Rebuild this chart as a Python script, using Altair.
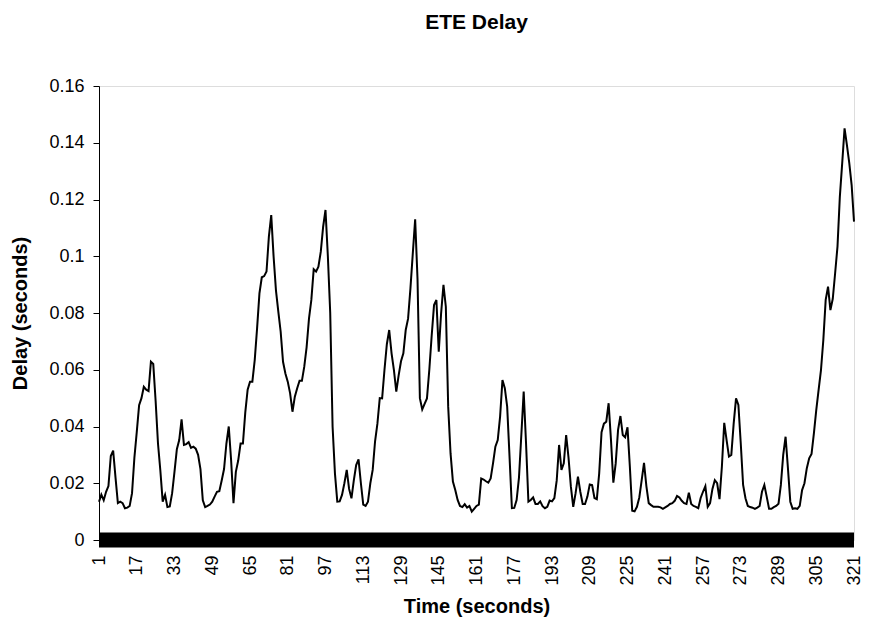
import altair as alt
import pandas as pd

FONT = "Liberation Sans"

time_s = list(range(1, 322))

delay_part1 = [0.0135, 0.016, 0.014, 0.017, 0.019, 0.0296, 0.0315, 0.022, 0.013, 0.0135,
               0.013, 0.0112, 0.0114, 0.012, 0.0165, 0.029, 0.038, 0.0475, 0.05, 0.054,
               0.053, 0.0525, 0.0628, 0.062, 0.049, 0.034, 0.0245, 0.0135, 0.0159, 0.0116,
               0.0118, 0.0165, 0.0241, 0.032, 0.0352, 0.0425, 0.0335, 0.0338, 0.0345, 0.0325,
               0.0329, 0.0322, 0.030, 0.025, 0.014, 0.0116, 0.012, 0.0125, 0.0135, 0.0153,
               0.017, 0.0172, 0.021, 0.025]
delay_part2 = [0.034, 0.04, 0.028, 0.013, 0.024, 0.028, 0.034, 0.034, 0.045, 0.053,
               0.0558, 0.0558, 0.0634, 0.0746, 0.0869, 0.0926, 0.093, 0.0946, 0.1069, 0.1145,
               0.0999, 0.088, 0.0805, 0.0734, 0.0628, 0.0587, 0.0558, 0.0517, 0.0452, 0.0505,
               0.0535, 0.0561, 0.0561, 0.0611, 0.068, 0.078, 0.0846, 0.0954, 0.0946, 0.0963,
               0.1016, 0.1104, 0.1163, 0.100, 0.080, 0.040, 0.0235, 0.0135, 0.0136, 0.0159,
               0.020, 0.0247, 0.018, 0.0147]
delay_part3 = [0.021, 0.0264, 0.0284, 0.020, 0.0125, 0.012, 0.0135, 0.020, 0.0247, 0.0347,
               0.041, 0.050, 0.0499, 0.060, 0.069, 0.074, 0.0658, 0.0599, 0.0523, 0.058,
               0.063, 0.0658, 0.074, 0.078, 0.0887, 0.101, 0.113, 0.092, 0.050, 0.046,
               0.048, 0.0499, 0.060, 0.072, 0.0828, 0.0846, 0.0664, 0.0799, 0.0899, 0.0822,
               0.047, 0.0305, 0.0206, 0.0176, 0.0141, 0.012, 0.0116, 0.0126, 0.0114, 0.012,
               0.010, 0.011, 0.012, 0.0125]
delay_part4 = [0.0217, 0.0213, 0.0207, 0.0202, 0.0217, 0.027, 0.0329, 0.0352, 0.0435, 0.0564,
               0.0535, 0.047, 0.0294, 0.0112, 0.0113, 0.0141, 0.022, 0.037, 0.0523, 0.034,
               0.0135, 0.0141, 0.015, 0.0127, 0.0127, 0.0136, 0.0119, 0.0112, 0.0117, 0.0139,
               0.0136, 0.0148, 0.021, 0.0335, 0.0247, 0.027, 0.037, 0.029, 0.0188, 0.0117,
               0.0165, 0.0223, 0.017, 0.0127, 0.0127, 0.0153, 0.0196, 0.0194, 0.0148, 0.0144,
               0.0235, 0.038, 0.041]
delay_part5 = [0.0417, 0.0482, 0.0352, 0.0202, 0.027, 0.0388, 0.0437, 0.037, 0.0362, 0.0397,
               0.0258, 0.0103, 0.0101, 0.0117, 0.015, 0.021, 0.0272, 0.019, 0.013, 0.0123,
               0.0117, 0.0117, 0.0117, 0.0115, 0.011, 0.0115, 0.012, 0.0127, 0.013, 0.0138,
               0.0155, 0.015, 0.0138, 0.013, 0.0127, 0.0167, 0.0127, 0.012, 0.0117, 0.0112,
               0.0148, 0.017, 0.019, 0.0117, 0.013, 0.018, 0.0211, 0.02, 0.0144, 0.0258,
               0.0413, 0.0352, 0.0294, 0.03]
delay_part6 = [0.041, 0.0499, 0.0476, 0.0341, 0.0194, 0.0147, 0.012, 0.0116, 0.0114, 0.011,
               0.0114, 0.012, 0.017, 0.0194, 0.0153, 0.011, 0.011, 0.0116, 0.012, 0.0128,
               0.0194, 0.03, 0.0364, 0.0253, 0.0135, 0.011, 0.0112, 0.011, 0.012, 0.0176,
               0.02, 0.0253, 0.0288, 0.0303, 0.0376, 0.0458, 0.0529, 0.0599, 0.0705, 0.0846,
               0.0893, 0.081, 0.085, 0.094, 0.1034, 0.121, 0.1328, 0.1451, 0.1392, 0.1328,
               0.1251, 0.1122]

delay = delay_part1 + delay_part2 + delay_part3 + delay_part4 + delay_part5 + delay_part6
baseline_series = [0] * len(time_s)

x_ticks = list(range(1, 322, 16))
y_ticks = [0, 0.02, 0.04, 0.06, 0.08, 0.1, 0.12, 0.14, 0.16]

df = pd.DataFrame({"Time": time_s, "Delay": delay, "Zero": baseline_series})

W, H = 755, 454

x_enc = alt.X(
    "Time:Q",
    scale=alt.Scale(domain=[1, 321], nice=False, zero=False),
    axis=alt.Axis(
        values=x_ticks, labelAngle=270, labelFontSize=18, labelFont=FONT,
        labelColor="black", ticks=False, labelPadding=15, domain=False, grid=False,
        title="Time (seconds)", titleFont=FONT, titleFontSize=20, titleFontWeight="bold",
        titleColor="black", titleX=W / 2, titleY=66, titleBaseline="middle", titleAlign="center",
    ),
)

y_axis = alt.Axis(
    values=y_ticks, format="~g", labelFontSize=18, labelFont=FONT, labelColor="black",
    tickSize=6, tickColor="black", labelPadding=9, domainColor="black", grid=False,
    title="Delay (seconds)", titleFont=FONT, titleFontSize=20, titleFontWeight="bold",
    titleColor="black", titleX=-79, titleY=H / 2, titleAngle=270, titleBaseline="middle",
    titleAlign="center",
)
y_scale = alt.Scale(domain=[0, 0.16], nice=False, zero=True)

band = alt.Chart(df).mark_line(color="black", strokeWidth=15, strokeCap="butt").encode(
    x=x_enc,
    y=alt.Y("Zero:Q", scale=y_scale, axis=y_axis),
)

line = alt.Chart(df).mark_line(color="black", strokeWidth=2).encode(
    x=x_enc,
    y=alt.Y("Delay:Q", scale=y_scale, axis=y_axis),
)

chart = (
    alt.layer(band, line)
    .properties(
        width=W,
        height=H,
        autosize=alt.AutoSizeParams(type="none"),
        padding={"left": 91, "top": 78, "right": 11, "bottom": 77},
        title=alt.TitleParams(
            "ETE Delay", font=FONT, fontSize=21, fontWeight="bold", color="black",
            anchor="middle", frame="group", offset=33, baseline="middle",
        ),
    )
    .configure_view(stroke="#808080", strokeWidth=1)
    .configure(background="white")
)

chart.save("out.html", embed_options={"renderer": "svg", "actions": False})
